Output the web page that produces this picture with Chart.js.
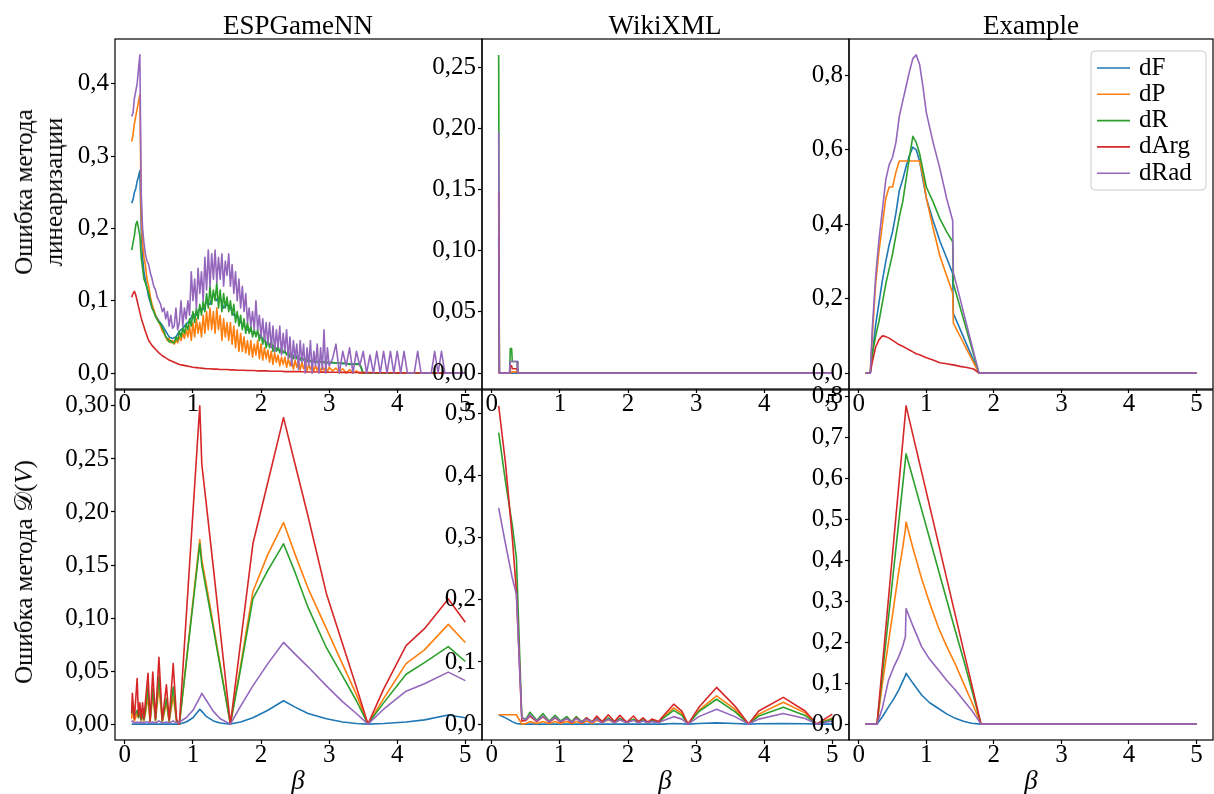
<!DOCTYPE html>
<html><head><meta charset="utf-8">
<script src="https://cdn.jsdelivr.net/npm/chart.js"></script>
<style>
html,body{margin:0;padding:0;background:#fff;}
#wrap{position:relative;width:1214px;height:794px;overflow:hidden;font-family:"Liberation Serif","DejaVu Serif",serif;color:#000;}
canvas{position:absolute;left:0;top:0;}
.t{position:absolute;white-space:nowrap;font-size:27px;line-height:1;transform:translate(-50%,-50%);}
.yl{position:absolute;white-space:pre;font-size:25px;line-height:30px;text-align:center;transform:translate(-50%,-50%) rotate(-90deg);}
</style></head><body><div id="wrap">
<canvas id="cA" width="1214" height="794"></canvas>
<canvas id="cB" width="1214" height="794"></canvas>
<canvas id="cC" width="1214" height="794"></canvas>
<canvas id="cD" width="1214" height="794"></canvas>
<canvas id="cE" width="1214" height="794"></canvas>
<canvas id="cF" width="1214" height="794"></canvas>
<div class="t" style="left:298px;top:25px">ESPGameNN</div>
<div class="t" style="left:665px;top:25px">WikiXML</div>
<div class="t" style="left:1031px;top:25px">Example</div>
<div class="t" style="left:298px;top:780px"><i>β</i></div>
<div class="t" style="left:665px;top:780px"><i>β</i></div>
<div class="t" style="left:1031px;top:780px"><i>β</i></div>
<div class="yl" style="left:39px;top:192px">Ошибка метода
линеаризации</div>
<div class="yl" style="left:24px;top:572px">Ошибка метода 𝒟(<i>V</i>)</div>
</div>
<script>
const seriesNames = ['dF','dP','dR','dArg','dRad'];
const seriesColors = ['#1f77b4','#ff7f0e','#2ca02c','#d62728','#9467bd'];
const xTicks = [0,1,2,3,4,5];
const xTickLabels = ['0','1','2','3','4','5'];
const xLim = [-0.145, 5.245];

// ---- ESPGameNN, linearization error ----
// coarse grid (dF, dArg)
const xA = [0.1,0.12,0.14,0.16,0.18,0.2,0.22,0.24,0.26,0.28,0.3,
0.35,0.4,0.45,0.5,0.55,0.6,0.65,0.7,0.75,0.8,
0.85,0.9,0.95,1.0,1.05,1.1,1.15,1.2,1.25,1.3,
1.35,1.4,1.45,1.5,1.55,1.6,1.65,1.7,1.75,1.8,
1.85,1.9,1.95,2.0,2.05,2.1,2.15,2.2,2.25,2.3,
2.35,2.4,2.45,2.5,2.55,2.6,2.65,2.7,2.75,2.8,
2.85,2.9,2.95,3.0,3.05,3.1,3.15,3.2,3.25,3.3,
3.35,3.4,3.45,3.5,3.55,3.6,3.65,3.7,3.75,3.8,
3.85,3.9,3.95,4.0,4.05,4.1,4.15,4.2,4.25,4.3,
4.35,4.4,4.45,4.5,4.55,4.6,4.65,4.7,4.75,4.8,
4.85,4.9,4.95,5.0];
// fine grid (dP, dR, dRad)
const xAf = [0.1,0.12,0.14,0.16,0.18,0.2,0.22,0.24,0.26,0.28,0.3,
0.325,0.35,0.375,0.4,0.425,0.45,0.475,0.5,
0.525,0.55,0.575,0.6,0.625,0.65,0.675,0.7,
0.725,0.75,0.775,0.8,0.825,0.85,0.875,0.9,
0.925,0.95,0.975,1.0,1.025,1.05,1.075,1.1,
1.125,1.15,1.175,1.2,1.225,1.25,1.275,1.3,
1.325,1.35,1.375,1.4,1.425,1.45,1.475,1.5,
1.525,1.55,1.575,1.6,1.625,1.65,1.675,1.7,
1.725,1.75,1.775,1.8,1.825,1.85,1.875,1.9,
1.925,1.95,1.975,2.0,2.025,2.05,2.075,2.1,
2.125,2.15,2.175,2.2,2.225,2.25,2.275,2.3,
2.325,2.35,2.375,2.4,2.425,2.45,2.475,2.5,
2.525,2.55,2.575,2.6,2.625,2.65,2.675,2.7,
2.725,2.75,2.775,2.8,2.825,2.85,2.875,2.9,
2.925,2.95,2.975,3.0,
3.05,3.1,3.15,3.2,3.25,3.3,3.35,3.4,3.45,3.5,
3.55,3.6,3.65,3.7,3.75,3.8,3.85,3.9,3.95,4.0,
4.05,4.1,4.15,4.2,4.25,4.3,4.35,4.4,4.45,4.5,
4.55,4.6,4.65,4.7,4.75,4.8,4.85,4.9,4.95,5.0];
const A_dF = [0.235,0.24,0.25,0.255,0.265,0.272,0.28,0.2,0.16,0.14,0.13,
0.105,0.09,0.08,0.072,0.066,0.058,0.05,0.048,0.05,0.058,
0.062,0.068,0.072,0.082,0.08,0.09,0.088,0.098,0.095,0.11,
0.1,0.105,0.09,0.095,0.09,0.08,0.08,0.07,0.065,0.06,
0.058,0.055,0.055,0.05,0.045,0.04,0.04,0.035,0.032,0.03,
0.028,0.026,0.025,0.024,0.022,0.02,0.018,0.016,0.016,0.015,
0.015,0.015,0.014,0.014,0.014,0.014,0.014,0.013,0.013,0.013,
0.013,0.013,0.013,0,0,0,0,0,0,0,
0,0,0,0,0,0,0,0,0,0,
0,0,0,0,0,0,0,0,0,0,
0,0,0,0];
const A_dP = [0.32,0.33,0.345,0.355,0.365,0.375,0.385,0.22,0.18,0.16,0.15,
0.13,0.12,0.105,0.095,0.088,0.08,0.075,0.07,
0.065,0.058,0.055,0.05,0.045,0.048,0.042,0.045,
0.04,0.045,0.042,0.05,0.045,0.055,0.048,0.06,
0.05,0.065,0.045,0.07,0.05,0.075,0.055,0.07,
0.05,0.08,0.055,0.085,0.06,0.09,0.06,0.085,
0.055,0.09,0.06,0.08,0.045,0.075,0.05,0.07,
0.045,0.07,0.04,0.065,0.035,0.06,0.03,0.055,
0.03,0.05,0.028,0.045,0.025,0.045,0.022,0.04,
0.025,0.045,0.02,0.04,0.018,0.035,0.02,0.032,
0.015,0.03,0.012,0.028,0.015,0.025,0.01,0.022,
0.012,0.022,0.008,0.02,0.01,0.018,0.005,0.018,
0.008,0.016,0.004,0.015,0.006,0.014,0.003,0.012,
0.005,0.012,0.003,0.01,0.004,0.01,0.002,0.009,
0.004,0.008,0.002,0.008,
0.003,0.007,0.002,0.006,0,0.005,0,0.003,0,0,
0,0,0,0,0,0,0,0,0,0,
0,0,0,0,0,0,0,0,0,0,
0,0,0,0,0,0,0,0,0,0];
const A_dR = [0.17,0.18,0.19,0.205,0.21,0.2,0.19,0.16,0.145,0.13,0.125,
0.118,0.11,0.1,0.09,0.085,0.078,0.074,0.07,
0.068,0.062,0.058,0.05,0.048,0.043,0.045,0.042,
0.042,0.05,0.045,0.058,0.05,0.062,0.055,0.068,
0.06,0.075,0.065,0.085,0.07,0.09,0.075,0.095,
0.08,0.1,0.085,0.11,0.09,0.12,0.095,0.115,
0.1,0.125,0.09,0.115,0.085,0.11,0.09,0.105,
0.085,0.1,0.08,0.095,0.07,0.085,0.065,0.08,
0.06,0.075,0.055,0.07,0.055,0.065,0.05,0.06,
0.05,0.06,0.045,0.055,0.04,0.05,0.035,0.045,
0.035,0.045,0.03,0.04,0.03,0.038,0.028,0.035,
0.028,0.032,0.025,0.03,0.022,0.028,0.02,0.026,
0.02,0.024,0.018,0.022,0.018,0.02,0.016,0.02,
0.016,0.018,0.016,0.018,0.015,0.017,0.015,0.016,
0.015,0.016,0.015,0.015,
0.015,0.014,0.014,0.014,0.014,0.012,0.012,0.012,0.012,0,
0,0,0,0,0,0,0,0,0,0,
0,0,0,0,0,0,0,0,0,0,
0,0,0,0,0,0,0,0,0,0];
const A_dArg = [0.105,0.11,0.113,0.108,0.1,0.092,0.084,0.076,0.07,0.064,0.058,
0.045,0.038,0.033,0.028,0.024,0.021,0.018,0.016,0.014,0.012,
0.011,0.01,0.009,0.008,0.0075,0.007,0.0065,0.006,0.006,0.0055,
0.0055,0.005,0.005,0.005,0.0045,0.0045,0.004,0.004,0.004,0.0035,
0.0035,0.0035,0.003,0.003,0.003,0.003,0.0025,0.0025,0.0025,0.0025,
0.002,0.002,0.002,0.002,0.002,0.0018,0.0018,0.0016,0.0016,0.0015,
0.0015,0.0014,0.0013,0.0012,0.0012,0.0011,0.001,0.001,0.001,0.0009,
0.0008,0.0008,0.0007,0.0007,0.0006,0.0006,0.0005,0.0005,0.0005,0.0004,
0.0004,0.0004,0.0003,0.0003,0.0003,0.0002,0.0002,0.0002,0.0002,0.0001,
0.0001,0.0001,0.0001,0.0001,0.0001,0,0,0,0,0,
0,0,0,0];
const A_dRad = [0.355,0.36,0.38,0.39,0.4,0.42,0.44,0.25,0.2,0.18,0.165,
0.155,0.15,0.138,0.13,0.12,0.115,0.105,0.1,
0.095,0.085,0.09,0.075,0.085,0.065,0.08,0.062,
0.065,0.09,0.06,0.07,0.1,0.065,0.09,0.075,
0.1,0.08,0.14,0.1,0.13,0.09,0.145,0.11,
0.14,0.1,0.16,0.115,0.17,0.12,0.165,0.13,
0.17,0.125,0.16,0.13,0.165,0.12,0.155,0.135,
0.165,0.12,0.15,0.11,0.14,0.1,0.13,0.09,
0.12,0.085,0.11,0.07,0.09,0.065,0.085,0.06,
0.1,0.06,0.08,0.05,0.075,0.045,0.07,0.04,
0.07,0.035,0.065,0.03,0.06,0.035,0.065,0.025,
0.055,0.03,0.06,0.02,0.05,0.01,0.045,0.02,
0.04,0.005,0.045,0.015,0.04,0,0.035,0.01,
0.045,0,0.03,0.01,0.04,0,0.035,0.005,
0.06,0,0.035,0.01,
0.02,0.04,0,0.03,0.01,0.035,0,0.03,0.01,0.03,
0,0.025,0,0.03,0,0.03,0,0.03,0,0.03,
0,0.03,0,0,0,0.03,0,0,0,0,
0.03,0,0.03,0,0,0,0,0,0,0];

// ---- WikiXML, linearization error ----
const xB = [0.1,0.11,0.2,0.26,0.27,0.29,0.3,0.37,0.38,1,2,3,4,5];
const B_dF = [0.112,0,0,0,0,0,0,0,0,0,0,0,0,0];
const B_dP = [0,0,0,0,0,0.001,0.001,0.001,0,0,0,0,0,0];
const B_dR = [0.26,0,0,0,0.02,0.02,0.0095,0.0095,0,0,0,0,0,0];
const B_dArg = [0.148,0,0,0,0.006,0.006,0.0035,0.0035,0,0,0,0,0,0];
const B_dRad = [0.197,0,0,0,0.0095,0.0095,0.0095,0.0095,0,0,0,0,0,0];

// ---- Example, linearization error ----
const xC = [0.1,0.15,0.17,0.2,0.25,0.3,0.35,0.4,0.45,0.5,0.55,0.6,0.65,0.7,0.75,0.8,0.85,0.9,0.95,1.0,1.1,1.2,1.3,1.39,1.4,1.5,1.6,1.7,1.78,2,3,4,5];
const C_dF = [0,0,0,0.05,0.13,0.19,0.25,0.3,0.345,0.38,0.43,0.49,0.52,0.555,0.585,0.607,0.6,0.57,0.52,0.47,0.41,0.355,0.31,0.268,0.16,0.118,0.076,0.034,0,0,0,0,0];
const C_dP = [0,0,0,0.1,0.24,0.33,0.4,0.47,0.5,0.5,0.54,0.57,0.57,0.57,0.57,0.57,0.57,0.57,0.53,0.47,0.39,0.315,0.262,0.215,0.134,0.099,0.063,0.028,0,0,0,0,0];
const C_dR = [0,0,0,0.05,0.1,0.14,0.19,0.24,0.28,0.32,0.37,0.42,0.46,0.52,0.58,0.636,0.62,0.59,0.545,0.5,0.46,0.415,0.38,0.353,0.24,0.177,0.114,0.05,0,0,0,0,0];
const C_dArg = [0,0,0,0.03,0.07,0.09,0.1,0.098,0.094,0.088,0.082,0.076,0.072,0.067,0.062,0.057,0.052,0.049,0.045,0.041,0.035,0.028,0.025,0.022,0.022,0.018,0.015,0.011,0,0,0,0,0];
const C_dRad = [0,0,0,0.12,0.26,0.36,0.44,0.52,0.56,0.58,0.62,0.69,0.73,0.77,0.81,0.845,0.855,0.83,0.77,0.7,0.62,0.55,0.47,0.41,0.27,0.2,0.128,0.057,0,0,0,0,0];

// ---- ESPGameNN, D(V) error ----
const xD = [0.1,0.11,0.14,0.18,0.2,0.22,0.24,0.26,0.28,0.3,0.34,0.37,0.41,0.45,0.5,0.55,0.61,0.65,0.71,0.76,0.8,
0.9,1.0,1.1,1.13,1.2,1.3,1.4,1.55,1.7,1.88,2.1,2.33,2.5,2.69,2.96,3.2,3.4,3.57,3.8,4.13,4.4,4.75,5.0];
const D_dF = [0,0,0,0,0,0,0,0,0,0,0,0,0,0,0,0,0,0,0,0,0,
0.002,0.006,0.014,0.012,0.007,0.003,0.001,0,0.002,0.006,0.013,0.022,0.016,0.01,0.005,0.002,0.0005,0,0.0005,0.002,0.004,0.0085,0.006];
const D_dP = [0.005,0.015,0.003,0.01,0.006,0.01,0.003,0.008,0.003,0.01,0.025,0.002,0.027,0.003,0.035,0.002,0.02,0.002,0.026,0.002,0,
0.058,0.116,0.174,0.155,0.13,0.093,0.056,0,0.055,0.125,0.16,0.19,0.16,0.128,0.09,0.056,0.028,0,0.024,0.057,0.07,0.094,0.077];
const D_dR = [0.01,0.02,0.008,0.013,0.006,0.012,0.004,0.01,0.004,0.012,0.035,0.003,0.033,0.004,0.045,0.003,0.024,0.003,0.035,0.003,0,
0.057,0.113,0.17,0.15,0.125,0.09,0.054,0,0.052,0.118,0.145,0.17,0.143,0.11,0.072,0.045,0.022,0,0.02,0.047,0.058,0.073,0.059];
const D_dArg = [0.01,0.029,0.005,0.043,0.008,0.02,0.005,0.02,0.005,0.02,0.048,0.003,0.049,0.005,0.063,0.004,0.037,0.004,0.057,0.004,0,
0.1,0.2,0.3,0.245,0.205,0.147,0.088,0,0.077,0.17,0.228,0.289,0.245,0.196,0.123,0.075,0.035,0,0.033,0.074,0.09,0.118,0.096];
const D_dRad = [0.002,0.003,0.001,0.002,0.001,0.002,0.001,0.002,0.001,0.002,0.002,0.001,0.002,0.001,0.003,0.001,0.002,0.001,0.003,0.001,0.002,
0.006,0.013,0.025,0.029,0.022,0.012,0.005,0,0.017,0.036,0.057,0.077,0.066,0.054,0.036,0.021,0.01,0,0.014,0.031,0.038,0.049,0.041];

// ---- WikiXML, D(V) error ----
const xE = [0.1,0.2,0.3,0.36,0.44,0.5,0.56,0.66,0.75,0.84,0.93,1.01,1.1,1.17,1.24,1.32,1.39,1.47,1.54,1.62,1.71,1.8,1.88,1.98,2.08,2.15,2.22,2.29,2.35,2.45,2.5,2.67,2.79,2.88,3.04,3.3,3.57,3.77,3.92,4.28,4.6,4.77,5.0];
const E_dF = [0.015,0.01,0.004,0.001,0,0,0,0,0,0,0,0,0,0,0,0,0,0,0,0,0,0,0,0,0,0,0,0,0,0,0,0.001,0.0005,0,0.001,0.002,0.001,0,0.0005,0.001,0.0005,0,0];
const E_dP = [0.015,0.015,0.015,0.015,0,0.001,0.004,0.001,0.004,0.001,0.004,0.001,0.004,0.001,0.004,0.001,0.005,0.001,0.006,0.002,0.007,0.002,0.007,0.002,0.007,0.002,0.006,0.002,0.005,0.002,0.009,0.026,0.017,0,0.022,0.0455,0.024,0,0.016,0.035,0.018,0,0.01];
const E_dR = [0.469,0.39,0.32,0.268,0.01,0.008,0.019,0.006,0.017,0.005,0.014,0.005,0.012,0.004,0.012,0.004,0.01,0.004,0.01,0.003,0.01,0.003,0.009,0.003,0.008,0.003,0.007,0.002,0.006,0.003,0.008,0.022,0.014,0,0.02,0.04,0.02,0,0.013,0.027,0.014,0,0.008];
const E_dArg = [0.512,0.42,0.3,0.214,0.005,0.006,0.013,0.004,0.012,0.003,0.01,0.003,0.009,0.002,0.01,0.002,0.01,0.003,0.013,0.004,0.015,0.004,0.014,0.003,0.013,0.004,0.01,0.003,0.008,0.004,0.011,0.032,0.021,0,0.027,0.059,0.029,0,0.021,0.043,0.021,0,0.016];
const E_dRad = [0.348,0.29,0.235,0.209,0.01,0.007,0.015,0.005,0.013,0.004,0.011,0.004,0.009,0.003,0.009,0.003,0.008,0.003,0.008,0.002,0.008,0.002,0.007,0.002,0.006,0.002,0.005,0.002,0.004,0.002,0.005,0.012,0.008,0,0.012,0.024,0.012,0,0.008,0.017,0.009,0,0.005];

// ---- Example, D(V) error ----
const xF = [0.1,0.2,0.27,0.35,0.44,0.52,0.59,0.65,0.69,0.7,0.8,0.93,1.05,1.18,1.3,1.43,1.55,1.67,1.81,2,3,4,5];
const F_dF = [0,0,0,0.018,0.042,0.062,0.083,0.104,0.118,0.124,0.1,0.071,0.052,0.038,0.025,0.014,0.007,0.002,0,0,0,0,0];
const F_dP = [0,0,0,0.1,0.2,0.29,0.37,0.43,0.475,0.493,0.43,0.355,0.295,0.235,0.19,0.146,0.1,0.055,0,0,0,0,0];
const F_dR = [0,0,0,0.123,0.26,0.383,0.49,0.582,0.644,0.659,0.6,0.523,0.452,0.375,0.304,0.227,0.158,0.085,0,0,0,0,0];
const F_dArg = [0,0,0,0.144,0.307,0.452,0.578,0.686,0.758,0.776,0.706,0.615,0.531,0.44,0.356,0.265,0.181,0.098,0,0,0,0,0];
const F_dRad = [0,0,0,0.04,0.107,0.14,0.164,0.19,0.213,0.282,0.24,0.189,0.158,0.132,0.107,0.083,0.058,0.034,0,0,0,0,0];

// y ticks
const yTicksA = [0,0.1,0.2,0.3,0.4], yTickLabelsA = ['0,0','0,1','0,2','0,3','0,4'];
const yTicksB = [0,0.05,0.1,0.15,0.2,0.25], yTickLabelsB = ['0,00','0,05','0,10','0,15','0,20','0,25'];
const yTicksC = [0,0.2,0.4,0.6,0.8], yTickLabelsC = ['0,0','0,2','0,4','0,6','0,8'];
const yTicksD = [0,0.05,0.1,0.15,0.2,0.25,0.3], yTickLabelsD = ['0,00','0,05','0,10','0,15','0,20','0,25','0,30'];
const yTicksE = [0,0.1,0.2,0.3,0.4,0.5], yTickLabelsE = ['0,0','0,1','0,2','0,3','0,4','0,5'];
const yTicksF = [0,0.1,0.2,0.3,0.4,0.5,0.6,0.7,0.8], yTickLabelsF = ['0,0','0,1','0,2','0,3','0,4','0,5','0,6','0,7','0,8'];

const W = 1214, H = 794, YW = 60, XH = 40;
const FONT = {family:'"Liberation Serif", "DejaVu Serif", serif', size:25, lineHeight:1};

const framePlugin = {
  id:'frame',
  afterDatasetsDraw(c){
    const a = c.chartArea, ctx = c.ctx;
    ctx.save(); ctx.strokeStyle = '#000'; ctx.lineWidth = 1.2;
    ctx.strokeRect(a.left, a.top, a.right - a.left, a.bottom - a.top);
    ctx.restore();
  }
};
const legendPlugin = {
  id:'cornerLegend',
  afterDraw(c){
    const a = c.chartArea, ctx = c.ctx;
    const bw = 115, bh = 139, bx = a.right - 7 - bw, by = a.top + 12, r = 4;
    ctx.save();
    ctx.beginPath();
    ctx.moveTo(bx + r, by); ctx.lineTo(bx + bw - r, by); ctx.arcTo(bx + bw, by, bx + bw, by + r, r);
    ctx.lineTo(bx + bw, by + bh - r); ctx.arcTo(bx + bw, by + bh, bx + bw - r, by + bh, r);
    ctx.lineTo(bx + r, by + bh); ctx.arcTo(bx, by + bh, bx, by + bh - r, r);
    ctx.lineTo(bx, by + r); ctx.arcTo(bx, by, bx + r, by, r); ctx.closePath();
    ctx.fillStyle = 'rgba(255,255,255,0.8)'; ctx.fill();
    ctx.strokeStyle = '#cccccc'; ctx.lineWidth = 1; ctx.stroke();
    ctx.font = '25px "Liberation Serif", "DejaVu Serif", serif';
    ctx.textBaseline = 'middle'; ctx.textAlign = 'left';
    c.data.datasets.forEach((ds, i) => {
      const y = by + 17 + i * 26.3;
      ctx.strokeStyle = ds.borderColor; ctx.lineWidth = 1.6;
      ctx.beginPath(); ctx.moveTo(bx + 6, y); ctx.lineTo(bx + 39, y); ctx.stroke();
      ctx.fillStyle = '#000'; ctx.fillText(ds.label, bx + 48, y);
    });
    ctx.restore();
  }
};

const panels = [
  {id:'cA', rect:[115,39,482,389], xs:[xA,xAf,xAf,xA,xAf], ys:[A_dF,A_dP,A_dR,A_dArg,A_dRad], ylim:[-0.022,0.462], yt:yTicksA, yl:yTickLabelsA},
  {id:'cB', rect:[482,39,849,389], xs:[xB,xB,xB,xB,xB], ys:[B_dF,B_dP,B_dR,B_dArg,B_dRad], ylim:[-0.013,0.273], yt:yTicksB, yl:yTickLabelsB},
  {id:'cC', rect:[849,39,1213,389], xs:[xC,xC,xC,xC,xC], ys:[C_dF,C_dP,C_dR,C_dArg,C_dRad], ylim:[-0.04275,0.89775], yt:yTicksC, yl:yTickLabelsC, legend:true},
  {id:'cD', rect:[115,390,482,740], xs:[xD,xD,xD,xD,xD], ys:[D_dF,D_dP,D_dR,D_dArg,D_dRad], ylim:[-0.015,0.315], yt:yTicksD, yl:yTickLabelsD},
  {id:'cE', rect:[482,390,849,740], xs:[xE,xE,xE,xE,xE], ys:[E_dF,E_dP,E_dR,E_dArg,E_dRad], ylim:[-0.0256,0.5376], yt:yTicksE, yl:yTickLabelsE},
  {id:'cF', rect:[849,390,1213,740], xs:[xF,xF,xF,xF,xF], ys:[F_dF,F_dP,F_dR,F_dArg,F_dRad], ylim:[-0.0388,0.8148], yt:yTicksF, yl:yTickLabelsF}
];

function build(p){
  const [l,t,r,b] = p.rect;
  const datasets = seriesNames.map((name,k) => {
    if (p.xs[k].length !== p.ys[k].length) throw new Error('length mismatch ' + p.id + ' ' + name + ' ' + p.xs[k].length + ' vs ' + p.ys[k].length);
    return {
      label:name,
      data:p.xs[k].map((xv,i) => ({x:xv, y:p.ys[k][i]})),
      borderColor:seriesColors[k], backgroundColor:seriesColors[k],
      borderWidth:1.6, pointRadius:0, tension:0, fill:false,
      borderJoinStyle:'round', order:5 - k
    };
  });
  const gridOpts = {display:true, drawOnChartArea:false, drawTicks:true, tickLength:4, tickColor:'#000', tickWidth:1.2};
  new Chart(document.getElementById(p.id), {
    type:'line',
    data:{datasets},
    options:{
      responsive:false, animation:false, events:[],
      layout:{autoPadding:false, padding:{left:l - YW, top:t, right:W - r, bottom:H - b - XH}},
      plugins:{legend:{display:false}, tooltip:{enabled:false}, title:{display:false}},
      scales:{
        x:{type:'linear', min:xLim[0], max:xLim[1],
          afterFit:s => { s.height = XH; s.paddingLeft = 0; s.paddingRight = 0; },
          afterBuildTicks:s => { s.ticks = xTicks.map(v => ({value:v})); },
          ticks:{callback:(v,i) => xTickLabels[i], font:FONT, color:'#000', padding:-1, maxRotation:0, minRotation:0, autoSkip:false},
          grid:gridOpts, border:{display:false}},
        y:{type:'linear', min:p.ylim[0], max:p.ylim[1],
          afterFit:s => { s.width = YW; s.paddingTop = 0; s.paddingBottom = 0; },
          afterBuildTicks:s => { s.ticks = p.yt.map(v => ({value:v})); },
          ticks:{callback:(v,i) => p.yl[i], font:FONT, color:'#000', padding:2, autoSkip:false},
          grid:gridOpts, border:{display:false}}
      }
    },
    plugins:[framePlugin].concat(p.legend ? [legendPlugin] : [])
  });
}
panels.forEach(build);
</script>
</body></html>
